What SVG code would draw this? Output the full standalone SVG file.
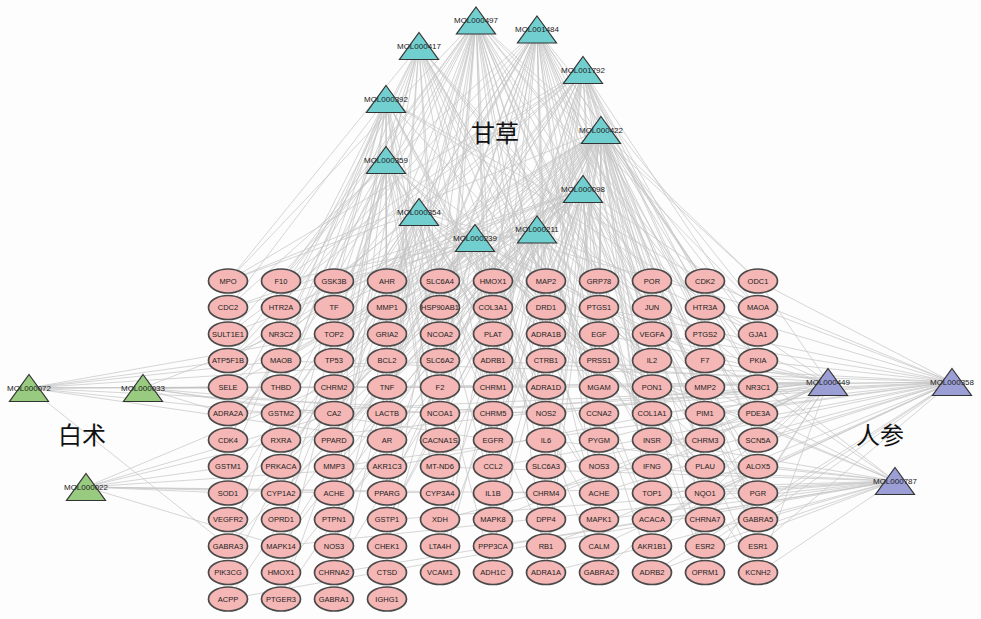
<svg xmlns="http://www.w3.org/2000/svg" width="981" height="619" viewBox="0 0 981 619">
<style>
.e{fill:none;stroke:#c4c4c4;stroke-width:1;stroke-opacity:.7}
.t ellipse{fill:#f4b7b5;stroke:#4a4a4a;stroke-width:1.7}
.t text{font-family:"Liberation Sans",Arial,sans-serif;font-size:7.5px;fill:#222;text-anchor:middle;dominant-baseline:central}
.m use{stroke:#333;stroke-width:1.2}
.m text{font-family:"Liberation Sans",Arial,sans-serif;font-size:8px;fill:#222;text-anchor:middle;dominant-baseline:central}
.gc use{fill:#72cfd0}
.gg use{fill:#98cb80}
.gp use{fill:#9c9fd6}
.herb{font-family:"Noto Sans CJK SC","Noto Sans CJK JP",sans-serif;font-size:24px;fill:#111;text-anchor:middle;dominant-baseline:central}
</style>
<defs>
<!-- compound marker shape, centred on the node position -->
<polygon id="tri" points="0,-13.5 19.5,13.5 -19.5,13.5"/>
</defs>
<rect width="981" height="619" fill="#fdfdfd"/>

<!-- connectors: compound to target -->
<g id="edges" class="e">
<path d="M476 20L228 361M476 20L281 308M476 20L334 281M476 20L387 414M476 20L440 493M476 20L493 334M476 20L546 387M476 20L599 281M476 20L652 440M476 20L705 308M476 20L758 361M476 20L281 520M476 20L334 440M476 20L387 308M476 20L440 281M476 20L493 467M476 20L546 573M476 20L599 414M476 20L652 334M476 20L705 493M476 20L228 440M476 20L387 546M476 20L546 308M476 20L440 387M476 20L599 520M476 20L758 281M476 20L334 599M476 20L493 573M476 20L652 573M476 20L281 414M476 20L228 281M476 20L281 281M476 20L387 361M476 20L440 414M476 20L546 440M476 20L599 308M476 20L705 387M476 20L758 308"/>
<path d="M537 30L228 308M537 30L281 361M537 30L334 334M537 30L387 281M537 30L440 440M537 30L493 387M537 30L546 493M537 30L599 308M537 30L652 387M537 30L705 281M537 30L758 414M537 30L281 467M537 30L334 520M537 30L387 387M537 30L440 308M537 30L493 281M537 30L546 334M537 30L599 546M537 30L652 467M537 30L705 361M537 30L758 308M537 30L228 493M537 30L440 573M537 30L599 387M537 30L493 520M537 30L387 467M537 30L705 440M537 30L652 281M537 30L228 361M537 30L334 387M537 30L440 361M537 30L546 281M537 30L599 493M537 30L652 334M537 30L758 361M537 30L758 520"/>
<path d="M419 46L228 281M419 46L281 334M419 46L334 361M419 46L387 440M419 46L440 334M419 46L493 308M419 46L546 414M419 46L599 361M419 46L652 308M419 46L705 387M419 46L758 467M419 46L228 414M419 46L281 387M419 46L334 493M419 46L387 520M419 46L440 414M419 46L493 440M419 46L546 281M419 46L599 467M419 46L652 520M419 46L705 546M419 46L281 573M419 46L334 308"/>
<path d="M583 70L228 334M583 70L281 281M583 70L334 414M583 70L387 361M583 70L440 361M583 70L493 414M583 70L546 361M583 70L599 334M583 70L652 414M583 70L705 334M583 70L758 387M583 70L758 520M583 70L705 467M583 70L652 361M583 70L599 440M583 70L546 440M583 70L493 361M583 70L440 520M583 70L387 493M583 70L334 387M583 70L281 440M583 70L228 387M583 70L758 440M583 70L705 414M583 70L652 493M583 70L228 281M583 70L334 281M583 70L440 281M583 70L546 281M583 70L652 281M583 70L758 334M583 70L705 308M583 70L493 493"/>
<path d="M386 99L228 308M386 99L228 467M386 99L281 361M386 99L281 493M386 99L334 281M386 99L334 467M386 99L387 334M386 99L387 573M386 99L440 361M386 99L440 467M386 99L493 308M386 99L546 387M386 99L599 493M386 99L652 387M386 99L705 281M386 99L758 334M386 99L228 546M386 99L281 308M386 99L334 546M386 99L387 599M386 99L440 546M386 99L493 493"/>
<path d="M601 130L228 281M601 130L228 414M601 130L228 520M601 130L281 334M601 130L281 440M601 130L281 546M601 130L334 308M601 130L334 361M601 130L334 493M601 130L387 281M601 130L387 387M601 130L387 467M601 130L440 308M601 130L440 414M601 130L440 546M601 130L493 361M601 130L493 440M601 130L493 546M601 130L546 308M601 130L546 467M601 130L546 520M601 130L599 281M601 130L599 361M601 130L599 573M601 130L652 308M601 130L652 440M601 130L652 546M601 130L705 361M601 130L705 414M601 130L705 520M601 130L758 281M601 130L758 361M601 130L758 440M601 130L758 546M601 130L228 361M601 130L281 599M601 130L334 440M601 130L387 520M601 130L440 467M601 130L705 281M601 130L758 334M601 130L228 467M601 130L281 387M601 130L334 573M601 130L387 334M601 130L440 361M601 130L493 308M601 130L546 387M601 130L599 414M601 130L652 361M601 130L705 467M601 130L758 387M601 130L758 493M601 130L705 573M601 130L652 493M601 130L546 573"/>
<path d="M386 160L228 334M386 160L228 440M386 160L281 387M386 160L281 520M386 160L334 414M386 160L334 573M386 160L387 361M386 160L387 493M386 160L440 440M386 160L440 520M386 160L493 387M386 160L493 573M386 160L546 414M386 160L546 546M386 160L599 308M386 160L599 520M386 160L652 414M386 160L705 467M386 160L758 493M386 160L281 281M386 160L334 334"/>
<path d="M583 189L228 387M583 189L228 493M583 189L281 308M583 189L281 467M583 189L334 440M583 189L334 520M583 189L387 308M583 189L387 414M583 189L440 281M583 189L440 387M583 189L493 467M583 189L493 520M583 189L546 361M583 189L546 573M583 189L599 414M583 189L599 546M583 189L652 281M583 189L652 493M583 189L705 308M583 189L705 573M583 189L758 414M583 189L758 573M583 189L334 281M583 189L281 573M583 189L228 308M583 189L281 361M583 189L334 361M583 189L387 361M583 189L440 308M583 189L493 414M583 189L546 308M583 189L599 467M583 189L652 387M583 189L705 414M583 189L758 308M583 189L758 467"/>
<path d="M419 212L228 361M419 212L228 573M419 212L281 414M419 212L281 599M419 212L334 387M419 212L334 546M419 212L387 308M419 212L387 440M419 212L440 334M419 212L440 493M419 212L493 281M419 212L493 414M419 212L546 308M419 212L546 440M419 212L599 387M419 212L599 493M419 212L652 334M419 212L705 387M419 212L758 308M419 212L228 281"/>
<path d="M537 230L228 308M537 230L228 546M537 230L281 281M537 230L281 493M537 230L334 334M537 230L334 467M537 230L387 361M537 230L387 520M537 230L440 361M537 230L440 573M537 230L493 334M537 230L493 493M537 230L546 387M537 230L546 520M537 230L599 281M537 230L599 440M537 230L652 361M537 230L652 520M537 230L705 334M537 230L705 440M537 230L758 334M537 230L758 493M537 230L758 573"/>
<path d="M475 238L228 334M475 238L228 599M475 238L281 361M475 238L281 546M475 238L334 308M475 238L334 414M475 238L387 334M475 238L387 546M475 238L440 281M475 238L440 440M475 238L493 387M475 238L493 573M475 238L546 467M475 238L546 281M475 238L599 361M475 238L599 573M475 238L652 414M475 238L705 493M475 238L758 387M475 238L758 520"/>
<path d="M828 382L758 281M828 382L758 334M828 382L758 414M828 382L758 493M828 382L705 361M828 382L705 440M828 382L705 520M828 382L652 308M828 382L652 387M828 382L652 467M828 382L652 546M828 382L599 334M828 382L599 440M828 382L546 414M828 382L546 493M828 382L493 361M828 382L493 520M828 382L440 414M828 382L387 467M828 382L334 387M828 382L281 440M828 382L705 573M828 382L599 573M828 382L758 573M828 382L546 308"/>
<path d="M952 382L758 308M952 382L758 361M952 382L758 440M952 382L758 520M952 382L758 546M952 382L705 281M952 382L705 414M952 382L705 493M952 382L705 546M952 382L652 334M952 382L652 414M952 382L652 520M952 382L599 308M952 382L599 387M952 382L599 493M952 382L546 361M952 382L546 467M952 382L546 546M952 382L493 414M952 382L493 467M952 382L440 387M952 382L440 520M952 382L387 414M952 382L334 467M952 382L281 361M952 382L228 414M952 382L652 573M952 382L599 546M952 382L758 281M952 382L705 308"/>
<path d="M895 481L758 467M895 481L758 520M895 481L758 573M895 481L705 493M895 481L705 546M895 481L705 334M895 481L652 440M895 481L652 493M895 481L652 573M895 481L599 467M895 481L599 520M895 481L546 440M895 481L546 573M895 481L493 493M895 481L493 546M895 481L440 467M895 481L387 520M895 481L334 573M895 481L281 546M895 481L228 599M895 481L758 387M895 481L705 387M895 481L599 361M895 481L546 334"/>
<path d="M29 388L228 387M29 388L228 361M29 388L281 414M29 388L334 387M29 388L387 440M29 388L440 361M29 388L493 387M29 388L546 414M29 388L281 361M29 388L228 546M29 388L334 334"/>
<path d="M143 388L228 387M143 388L281 387M143 388L334 414M143 388L387 387M143 388L440 414M143 388L493 440M143 388L228 414M143 388L281 334M143 388L599 387"/>
<path d="M86 487L228 467M86 487L281 440M86 487L334 493M86 487L387 467M86 487L440 493M86 487L228 493M86 487L281 546M86 487L546 493M86 487L387 361M86 487L334 414"/>
</g>

<!-- herb labels -->
<text class="herb" x="495" y="131">甘草</text>
<text class="herb" x="82" y="433">白术</text>
<text class="herb" x="880" y="433">人参</text>

<!-- 甘草 compounds -->
<g id="MOL000497" class="m gc" transform="translate(476,20.5)"><use href="#tri"/><text>MOL000497</text></g>
<g id="MOL001484" class="m gc" transform="translate(537,29.5)"><use href="#tri"/><text>MOL001484</text></g>
<g id="MOL000417" class="m gc" transform="translate(419,46)"><use href="#tri"/><text>MOL000417</text></g>
<g id="MOL001792" class="m gc" transform="translate(583,70)"><use href="#tri"/><text>MOL001792</text></g>
<g id="MOL000392" class="m gc" transform="translate(386,99)"><use href="#tri"/><text>MOL000392</text></g>
<g id="MOL000422" class="m gc" transform="translate(601,130)"><use href="#tri"/><text>MOL000422</text></g>
<g id="MOL000359" class="m gc" transform="translate(386,160)"><use href="#tri"/><text>MOL000359</text></g>
<g id="MOL000098" class="m gc" transform="translate(583,189)"><use href="#tri"/><text>MOL000098</text></g>
<g id="MOL000354" class="m gc" transform="translate(419,212)"><use href="#tri"/><text>MOL000354</text></g>
<g id="MOL000211" class="m gc" transform="translate(537,229.5)"><use href="#tri"/><text>MOL000211</text></g>
<g id="MOL000239" class="m gc" transform="translate(475,238)"><use href="#tri"/><text>MOL000239</text></g>

<!-- 白术 compounds -->
<g id="MOL000072" class="m gg" transform="translate(29,388)"><use href="#tri"/><text>MOL000072</text></g>
<g id="MOL000033" class="m gg" transform="translate(143,388)"><use href="#tri"/><text>MOL000033</text></g>
<g id="MOL000022" class="m gg" transform="translate(86,487)"><use href="#tri"/><text>MOL000022</text></g>

<!-- 人参 compounds -->
<g id="MOL000449" class="m gp" transform="translate(828,382)"><use href="#tri"/><text>MOL000449</text></g>
<g id="MOL000358" class="m gp" transform="translate(952,382)"><use href="#tri"/><text>MOL000358</text></g>
<g id="MOL000787" class="m gp" transform="translate(895,481)"><use href="#tri"/><text>MOL000787</text></g>

<!-- targets, column by column -->
<g id="targets" class="t">
<g id="t-MPO"><ellipse cx="228" cy="281" rx="19.5" ry="12"/><text x="228" y="281">MPO</text></g>
<g id="t-CDC2"><ellipse cx="228" cy="307.5" rx="19.5" ry="12"/><text x="228" y="307.5">CDC2</text></g>
<g id="t-SULT1E1"><ellipse cx="228" cy="334" rx="19.5" ry="12"/><text x="228" y="334">SULT1E1</text></g>
<g id="t-ATP5F1B"><ellipse cx="228" cy="360.5" rx="19.5" ry="12"/><text x="228" y="360.5">ATP5F1B</text></g>
<g id="t-SELE"><ellipse cx="228" cy="387" rx="19.5" ry="12"/><text x="228" y="387">SELE</text></g>
<g id="t-ADRA2A"><ellipse cx="228" cy="413.5" rx="19.5" ry="12"/><text x="228" y="413.5">ADRA2A</text></g>
<g id="t-CDK4"><ellipse cx="228" cy="440" rx="19.5" ry="12"/><text x="228" y="440">CDK4</text></g>
<g id="t-GSTM1"><ellipse cx="228" cy="466.5" rx="19.5" ry="12"/><text x="228" y="466.5">GSTM1</text></g>
<g id="t-SOD1"><ellipse cx="228" cy="493" rx="19.5" ry="12"/><text x="228" y="493">SOD1</text></g>
<g id="t-VEGFR2"><ellipse cx="228" cy="519.5" rx="19.5" ry="12"/><text x="228" y="519.5">VEGFR2</text></g>
<g id="t-GABRA3"><ellipse cx="228" cy="546" rx="19.5" ry="12"/><text x="228" y="546">GABRA3</text></g>
<g id="t-PIK3CG"><ellipse cx="228" cy="572.5" rx="19.5" ry="12"/><text x="228" y="572.5">PIK3CG</text></g>
<g id="t-ACPP"><ellipse cx="228" cy="599" rx="19.5" ry="12"/><text x="228" y="599">ACPP</text></g>

<g id="t-F10"><ellipse cx="281" cy="281" rx="19.5" ry="12"/><text x="281" y="281">F10</text></g>
<g id="t-HTR2A"><ellipse cx="281" cy="307.5" rx="19.5" ry="12"/><text x="281" y="307.5">HTR2A</text></g>
<g id="t-NR3C2"><ellipse cx="281" cy="334" rx="19.5" ry="12"/><text x="281" y="334">NR3C2</text></g>
<g id="t-MAOB"><ellipse cx="281" cy="360.5" rx="19.5" ry="12"/><text x="281" y="360.5">MAOB</text></g>
<g id="t-THBD"><ellipse cx="281" cy="387" rx="19.5" ry="12"/><text x="281" y="387">THBD</text></g>
<g id="t-GSTM2"><ellipse cx="281" cy="413.5" rx="19.5" ry="12"/><text x="281" y="413.5">GSTM2</text></g>
<g id="t-RXRA"><ellipse cx="281" cy="440" rx="19.5" ry="12"/><text x="281" y="440">RXRA</text></g>
<g id="t-PRKACA"><ellipse cx="281" cy="466.5" rx="19.5" ry="12"/><text x="281" y="466.5">PRKACA</text></g>
<g id="t-CYP1A2"><ellipse cx="281" cy="493" rx="19.5" ry="12"/><text x="281" y="493">CYP1A2</text></g>
<g id="t-OPRD1"><ellipse cx="281" cy="519.5" rx="19.5" ry="12"/><text x="281" y="519.5">OPRD1</text></g>
<g id="t-MAPK14"><ellipse cx="281" cy="546" rx="19.5" ry="12"/><text x="281" y="546">MAPK14</text></g>
<g id="t-HMOX1-b"><ellipse cx="281" cy="572.5" rx="19.5" ry="12"/><text x="281" y="572.5">HMOX1</text></g>
<g id="t-PTGER3"><ellipse cx="281" cy="599" rx="19.5" ry="12"/><text x="281" y="599">PTGER3</text></g>

<g id="t-GSK3B"><ellipse cx="334" cy="281" rx="19.5" ry="12"/><text x="334" y="281">GSK3B</text></g>
<g id="t-TF"><ellipse cx="334" cy="307.5" rx="19.5" ry="12"/><text x="334" y="307.5">TF</text></g>
<g id="t-TOP2"><ellipse cx="334" cy="334" rx="19.5" ry="12"/><text x="334" y="334">TOP2</text></g>
<g id="t-TP53"><ellipse cx="334" cy="360.5" rx="19.5" ry="12"/><text x="334" y="360.5">TP53</text></g>
<g id="t-CHRM2"><ellipse cx="334" cy="387" rx="19.5" ry="12"/><text x="334" y="387">CHRM2</text></g>
<g id="t-CA2"><ellipse cx="334" cy="413.5" rx="19.5" ry="12"/><text x="334" y="413.5">CA2</text></g>
<g id="t-PPARD"><ellipse cx="334" cy="440" rx="19.5" ry="12"/><text x="334" y="440">PPARD</text></g>
<g id="t-MMP3"><ellipse cx="334" cy="466.5" rx="19.5" ry="12"/><text x="334" y="466.5">MMP3</text></g>
<g id="t-ACHE"><ellipse cx="334" cy="493" rx="19.5" ry="12"/><text x="334" y="493">ACHE</text></g>
<g id="t-PTPN1"><ellipse cx="334" cy="519.5" rx="19.5" ry="12"/><text x="334" y="519.5">PTPN1</text></g>
<g id="t-NOS3"><ellipse cx="334" cy="546" rx="19.5" ry="12"/><text x="334" y="546">NOS3</text></g>
<g id="t-CHRNA2"><ellipse cx="334" cy="572.5" rx="19.5" ry="12"/><text x="334" y="572.5">CHRNA2</text></g>
<g id="t-GABRA1"><ellipse cx="334" cy="599" rx="19.5" ry="12"/><text x="334" y="599">GABRA1</text></g>

<g id="t-AHR"><ellipse cx="387" cy="281" rx="19.5" ry="12"/><text x="387" y="281">AHR</text></g>
<g id="t-MMP1"><ellipse cx="387" cy="307.5" rx="19.5" ry="12"/><text x="387" y="307.5">MMP1</text></g>
<g id="t-GRIA2"><ellipse cx="387" cy="334" rx="19.5" ry="12"/><text x="387" y="334">GRIA2</text></g>
<g id="t-BCL2"><ellipse cx="387" cy="360.5" rx="19.5" ry="12"/><text x="387" y="360.5">BCL2</text></g>
<g id="t-TNF"><ellipse cx="387" cy="387" rx="19.5" ry="12"/><text x="387" y="387">TNF</text></g>
<g id="t-LACTB"><ellipse cx="387" cy="413.5" rx="19.5" ry="12"/><text x="387" y="413.5">LACTB</text></g>
<g id="t-AR"><ellipse cx="387" cy="440" rx="19.5" ry="12"/><text x="387" y="440">AR</text></g>
<g id="t-AKR1C3"><ellipse cx="387" cy="466.5" rx="19.5" ry="12"/><text x="387" y="466.5">AKR1C3</text></g>
<g id="t-PPARG"><ellipse cx="387" cy="493" rx="19.5" ry="12"/><text x="387" y="493">PPARG</text></g>
<g id="t-GSTP1"><ellipse cx="387" cy="519.5" rx="19.5" ry="12"/><text x="387" y="519.5">GSTP1</text></g>
<g id="t-CHEK1"><ellipse cx="387" cy="546" rx="19.5" ry="12"/><text x="387" y="546">CHEK1</text></g>
<g id="t-CTSD"><ellipse cx="387" cy="572.5" rx="19.5" ry="12"/><text x="387" y="572.5">CTSD</text></g>
<g id="t-IGHG1"><ellipse cx="387" cy="599" rx="19.5" ry="12"/><text x="387" y="599">IGHG1</text></g>

<g id="t-SLC6A4"><ellipse cx="440" cy="281" rx="19.5" ry="12"/><text x="440" y="281">SLC6A4</text></g>
<g id="t-HSP90AB1"><ellipse cx="440" cy="307.5" rx="19.5" ry="12"/><text x="440" y="307.5">HSP90AB1</text></g>
<g id="t-NCOA2"><ellipse cx="440" cy="334" rx="19.5" ry="12"/><text x="440" y="334">NCOA2</text></g>
<g id="t-SLC6A2"><ellipse cx="440" cy="360.5" rx="19.5" ry="12"/><text x="440" y="360.5">SLC6A2</text></g>
<g id="t-F2"><ellipse cx="440" cy="387" rx="19.5" ry="12"/><text x="440" y="387">F2</text></g>
<g id="t-NCOA1"><ellipse cx="440" cy="413.5" rx="19.5" ry="12"/><text x="440" y="413.5">NCOA1</text></g>
<g id="t-CACNA1S"><ellipse cx="440" cy="440" rx="19.5" ry="12"/><text x="440" y="440">CACNA1S</text></g>
<g id="t-MT-ND6"><ellipse cx="440" cy="466.5" rx="19.5" ry="12"/><text x="440" y="466.5">MT-ND6</text></g>
<g id="t-CYP3A4"><ellipse cx="440" cy="493" rx="19.5" ry="12"/><text x="440" y="493">CYP3A4</text></g>
<g id="t-XDH"><ellipse cx="440" cy="519.5" rx="19.5" ry="12"/><text x="440" y="519.5">XDH</text></g>
<g id="t-LTA4H"><ellipse cx="440" cy="546" rx="19.5" ry="12"/><text x="440" y="546">LTA4H</text></g>
<g id="t-VCAM1"><ellipse cx="440" cy="572.5" rx="19.5" ry="12"/><text x="440" y="572.5">VCAM1</text></g>

<g id="t-HMOX1"><ellipse cx="493" cy="281" rx="19.5" ry="12"/><text x="493" y="281">HMOX1</text></g>
<g id="t-COL3A1"><ellipse cx="493" cy="307.5" rx="19.5" ry="12"/><text x="493" y="307.5">COL3A1</text></g>
<g id="t-PLAT"><ellipse cx="493" cy="334" rx="19.5" ry="12"/><text x="493" y="334">PLAT</text></g>
<g id="t-ADRB1"><ellipse cx="493" cy="360.5" rx="19.5" ry="12"/><text x="493" y="360.5">ADRB1</text></g>
<g id="t-CHRM1"><ellipse cx="493" cy="387" rx="19.5" ry="12"/><text x="493" y="387">CHRM1</text></g>
<g id="t-CHRM5"><ellipse cx="493" cy="413.5" rx="19.5" ry="12"/><text x="493" y="413.5">CHRM5</text></g>
<g id="t-EGFR"><ellipse cx="493" cy="440" rx="19.5" ry="12"/><text x="493" y="440">EGFR</text></g>
<g id="t-CCL2"><ellipse cx="493" cy="466.5" rx="19.5" ry="12"/><text x="493" y="466.5">CCL2</text></g>
<g id="t-IL1B"><ellipse cx="493" cy="493" rx="19.5" ry="12"/><text x="493" y="493">IL1B</text></g>
<g id="t-MAPK8"><ellipse cx="493" cy="519.5" rx="19.5" ry="12"/><text x="493" y="519.5">MAPK8</text></g>
<g id="t-PPP3CA"><ellipse cx="493" cy="546" rx="19.5" ry="12"/><text x="493" y="546">PPP3CA</text></g>
<g id="t-ADH1C"><ellipse cx="493" cy="572.5" rx="19.5" ry="12"/><text x="493" y="572.5">ADH1C</text></g>

<g id="t-MAP2"><ellipse cx="546" cy="281" rx="19.5" ry="12"/><text x="546" y="281">MAP2</text></g>
<g id="t-DRD1"><ellipse cx="546" cy="307.5" rx="19.5" ry="12"/><text x="546" y="307.5">DRD1</text></g>
<g id="t-ADRA1B"><ellipse cx="546" cy="334" rx="19.5" ry="12"/><text x="546" y="334">ADRA1B</text></g>
<g id="t-CTRB1"><ellipse cx="546" cy="360.5" rx="19.5" ry="12"/><text x="546" y="360.5">CTRB1</text></g>
<g id="t-ADRA1D"><ellipse cx="546" cy="387" rx="19.5" ry="12"/><text x="546" y="387">ADRA1D</text></g>
<g id="t-NOS2"><ellipse cx="546" cy="413.5" rx="19.5" ry="12"/><text x="546" y="413.5">NOS2</text></g>
<g id="t-IL6"><ellipse cx="546" cy="440" rx="19.5" ry="12"/><text x="546" y="440">IL6</text></g>
<g id="t-SLC6A3"><ellipse cx="546" cy="466.5" rx="19.5" ry="12"/><text x="546" y="466.5">SLC6A3</text></g>
<g id="t-CHRM4"><ellipse cx="546" cy="493" rx="19.5" ry="12"/><text x="546" y="493">CHRM4</text></g>
<g id="t-DPP4"><ellipse cx="546" cy="519.5" rx="19.5" ry="12"/><text x="546" y="519.5">DPP4</text></g>
<g id="t-RB1"><ellipse cx="546" cy="546" rx="19.5" ry="12"/><text x="546" y="546">RB1</text></g>
<g id="t-ADRA1A"><ellipse cx="546" cy="572.5" rx="19.5" ry="12"/><text x="546" y="572.5">ADRA1A</text></g>

<g id="t-GRP78"><ellipse cx="599" cy="281" rx="19.5" ry="12"/><text x="599" y="281">GRP78</text></g>
<g id="t-PTGS1"><ellipse cx="599" cy="307.5" rx="19.5" ry="12"/><text x="599" y="307.5">PTGS1</text></g>
<g id="t-EGF"><ellipse cx="599" cy="334" rx="19.5" ry="12"/><text x="599" y="334">EGF</text></g>
<g id="t-PRSS1"><ellipse cx="599" cy="360.5" rx="19.5" ry="12"/><text x="599" y="360.5">PRSS1</text></g>
<g id="t-MGAM"><ellipse cx="599" cy="387" rx="19.5" ry="12"/><text x="599" y="387">MGAM</text></g>
<g id="t-CCNA2"><ellipse cx="599" cy="413.5" rx="19.5" ry="12"/><text x="599" y="413.5">CCNA2</text></g>
<g id="t-PYGM"><ellipse cx="599" cy="440" rx="19.5" ry="12"/><text x="599" y="440">PYGM</text></g>
<g id="t-NOS3-b"><ellipse cx="599" cy="466.5" rx="19.5" ry="12"/><text x="599" y="466.5">NOS3</text></g>
<g id="t-ACHE-b"><ellipse cx="599" cy="493" rx="19.5" ry="12"/><text x="599" y="493">ACHE</text></g>
<g id="t-MAPK1"><ellipse cx="599" cy="519.5" rx="19.5" ry="12"/><text x="599" y="519.5">MAPK1</text></g>
<g id="t-CALM"><ellipse cx="599" cy="546" rx="19.5" ry="12"/><text x="599" y="546">CALM</text></g>
<g id="t-GABRA2"><ellipse cx="599" cy="572.5" rx="19.5" ry="12"/><text x="599" y="572.5">GABRA2</text></g>

<g id="t-POR"><ellipse cx="652" cy="281" rx="19.5" ry="12"/><text x="652" y="281">POR</text></g>
<g id="t-JUN"><ellipse cx="652" cy="307.5" rx="19.5" ry="12"/><text x="652" y="307.5">JUN</text></g>
<g id="t-VEGFA"><ellipse cx="652" cy="334" rx="19.5" ry="12"/><text x="652" y="334">VEGFA</text></g>
<g id="t-IL2"><ellipse cx="652" cy="360.5" rx="19.5" ry="12"/><text x="652" y="360.5">IL2</text></g>
<g id="t-PON1"><ellipse cx="652" cy="387" rx="19.5" ry="12"/><text x="652" y="387">PON1</text></g>
<g id="t-COL1A1"><ellipse cx="652" cy="413.5" rx="19.5" ry="12"/><text x="652" y="413.5">COL1A1</text></g>
<g id="t-INSR"><ellipse cx="652" cy="440" rx="19.5" ry="12"/><text x="652" y="440">INSR</text></g>
<g id="t-IFNG"><ellipse cx="652" cy="466.5" rx="19.5" ry="12"/><text x="652" y="466.5">IFNG</text></g>
<g id="t-TOP1"><ellipse cx="652" cy="493" rx="19.5" ry="12"/><text x="652" y="493">TOP1</text></g>
<g id="t-ACACA"><ellipse cx="652" cy="519.5" rx="19.5" ry="12"/><text x="652" y="519.5">ACACA</text></g>
<g id="t-AKR1B1"><ellipse cx="652" cy="546" rx="19.5" ry="12"/><text x="652" y="546">AKR1B1</text></g>
<g id="t-ADRB2"><ellipse cx="652" cy="572.5" rx="19.5" ry="12"/><text x="652" y="572.5">ADRB2</text></g>

<g id="t-CDK2"><ellipse cx="705" cy="281" rx="19.5" ry="12"/><text x="705" y="281">CDK2</text></g>
<g id="t-HTR3A"><ellipse cx="705" cy="307.5" rx="19.5" ry="12"/><text x="705" y="307.5">HTR3A</text></g>
<g id="t-PTGS2"><ellipse cx="705" cy="334" rx="19.5" ry="12"/><text x="705" y="334">PTGS2</text></g>
<g id="t-F7"><ellipse cx="705" cy="360.5" rx="19.5" ry="12"/><text x="705" y="360.5">F7</text></g>
<g id="t-MMP2"><ellipse cx="705" cy="387" rx="19.5" ry="12"/><text x="705" y="387">MMP2</text></g>
<g id="t-PIM1"><ellipse cx="705" cy="413.5" rx="19.5" ry="12"/><text x="705" y="413.5">PIM1</text></g>
<g id="t-CHRM3"><ellipse cx="705" cy="440" rx="19.5" ry="12"/><text x="705" y="440">CHRM3</text></g>
<g id="t-PLAU"><ellipse cx="705" cy="466.5" rx="19.5" ry="12"/><text x="705" y="466.5">PLAU</text></g>
<g id="t-NQO1"><ellipse cx="705" cy="493" rx="19.5" ry="12"/><text x="705" y="493">NQO1</text></g>
<g id="t-CHRNA7"><ellipse cx="705" cy="519.5" rx="19.5" ry="12"/><text x="705" y="519.5">CHRNA7</text></g>
<g id="t-ESR2"><ellipse cx="705" cy="546" rx="19.5" ry="12"/><text x="705" y="546">ESR2</text></g>
<g id="t-OPRM1"><ellipse cx="705" cy="572.5" rx="19.5" ry="12"/><text x="705" y="572.5">OPRM1</text></g>

<g id="t-ODC1"><ellipse cx="758" cy="281" rx="19.5" ry="12"/><text x="758" y="281">ODC1</text></g>
<g id="t-MAOA"><ellipse cx="758" cy="307.5" rx="19.5" ry="12"/><text x="758" y="307.5">MAOA</text></g>
<g id="t-GJA1"><ellipse cx="758" cy="334" rx="19.5" ry="12"/><text x="758" y="334">GJA1</text></g>
<g id="t-PKIA"><ellipse cx="758" cy="360.5" rx="19.5" ry="12"/><text x="758" y="360.5">PKIA</text></g>
<g id="t-NR3C1"><ellipse cx="758" cy="387" rx="19.5" ry="12"/><text x="758" y="387">NR3C1</text></g>
<g id="t-PDE3A"><ellipse cx="758" cy="413.5" rx="19.5" ry="12"/><text x="758" y="413.5">PDE3A</text></g>
<g id="t-SCN5A"><ellipse cx="758" cy="440" rx="19.5" ry="12"/><text x="758" y="440">SCN5A</text></g>
<g id="t-ALOX5"><ellipse cx="758" cy="466.5" rx="19.5" ry="12"/><text x="758" y="466.5">ALOX5</text></g>
<g id="t-PGR"><ellipse cx="758" cy="493" rx="19.5" ry="12"/><text x="758" y="493">PGR</text></g>
<g id="t-GABRA5"><ellipse cx="758" cy="519.5" rx="19.5" ry="12"/><text x="758" y="519.5">GABRA5</text></g>
<g id="t-ESR1"><ellipse cx="758" cy="546" rx="19.5" ry="12"/><text x="758" y="546">ESR1</text></g>
<g id="t-KCNH2"><ellipse cx="758" cy="572.5" rx="19.5" ry="12"/><text x="758" y="572.5">KCNH2</text></g>
</g>
</svg>
